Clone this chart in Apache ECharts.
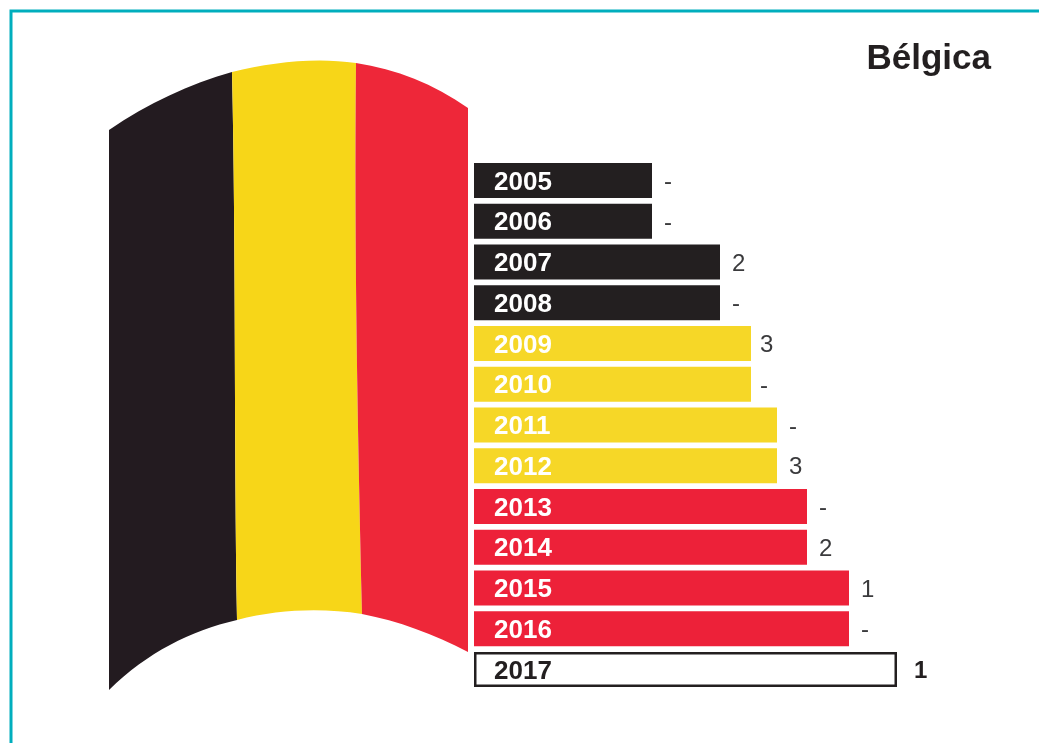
<!DOCTYPE html>
<html>
<head>
<meta charset="utf-8">
<title>Bélgica</title>
<script src="https://cdn.jsdelivr.net/npm/echarts@6/dist/echarts.min.js"></script>
<style>
html, body { margin: 0; padding: 0; background: #fff; }
#main { width: 1039px; height: 743px; }
</style>
</head>
<body>
<div id="main"></div>
<script>
var years = ['2005', '2006', '2007', '2008', '2009', '2010', '2011', '2012', '2013', '2014', '2015', '2016', '2017'];
// largo de cada barra
var barLengths = [178, 178, 246, 246, 277, 277, 303, 303, 333, 333, 375, 375, 423];
var counts = ['-', '-', '2', '-', '3', '-', '-', '3', '-', '2', '1', '-', '1'];

var BLACK = '#231f20', YELLOW = '#f6d727', RED = '#ed2139';
var FONT = '"Liberation Sans", Arial, sans-serif';

function barColor(i) {
    if (i < 4) return BLACK;
    if (i < 8) return YELLOW;
    if (i < 12) return RED;
    return '#ffffff';
}

var yearData = [];
var countData = [];
years.forEach(function (y, i) {
    var last = i === years.length - 1;
    yearData.push({
        value: barLengths[i],
        itemStyle: {
            color: barColor(i),
            borderColor: last ? BLACK : 'transparent',
            borderWidth: last ? 2.5 : 0
        },
        label: { color: last ? BLACK : '#ffffff' }
    });
    countData.push({
        value: barLengths[i],
        label: {
            fontWeight: last ? 'bold' : 'normal',
            color: last ? BLACK : '#3a3a3c',
            distance: last ? 17 : (i === 4 || i === 5 ? 9 : 12)
        }
    });
});

// bandera de fondo
function renderFlag() {
    return {
        type: 'group',
        children: [
            {
                type: 'path',
                shape: { pathData: 'M109 130 C148 103 190 84 232 72 C236 250 234 440 237 620 C190 631 148 652 109 690 Z' },
                style: { fill: '#231b20' }
            },
            {
                type: 'path',
                shape: { pathData: 'M232 72 C272 62 316 57 356 63 C354 250 358 440 362 614 C322 608 280 609 237 620 C234 440 236 250 232 72 Z' },
                style: { fill: '#f7d618' }
            },
            {
                type: 'path',
                shape: { pathData: 'M356 63 C396 69 434 84 468 108 L468 652 C434 634 398 621 362 614 C358 440 354 250 356 63 Z' },
                style: { fill: '#ee2739' }
            }
        ]
    };
}

var myChart = echarts.init(document.getElementById('main'));

var option = {
    animation: false,
    backgroundColor: '#ffffff',
    grid: { left: 474, top: 160, width: 565, height: 530 },
    xAxis: { type: 'value', min: 0, max: 565, show: false },
    yAxis: { type: 'category', data: years, inverse: true, show: false },
    graphic: [
        // marco
        {
            type: 'polyline', silent: true,
            shape: { points: [[11, 743], [11, 11], [1039, 11]] },
            style: { stroke: '#00aebd', lineWidth: 3, fill: null }
        },
        {
            type: 'text', silent: true, right: 48, top: 42,
            style: { text: 'Bélgica', font: 'bold 35px ' + FONT, fill: BLACK }
        }
    ],
    series: [
        {
            name: 'bandera',
            type: 'custom',
            coordinateSystem: 'none',
            silent: true,
            renderItem: renderFlag,
            data: [0]
        },
        {
            name: 'años',
            type: 'bar',
            barWidth: 35,
            barGap: '-100%',
            label: {
                show: true,
                position: 'insideLeft',
                distance: 20,
                offset: [0, 2],
                fontFamily: FONT,
                fontWeight: 'bold',
                fontSize: 26,
                formatter: function (p) { return years[p.dataIndex]; }
            },
            data: yearData
        },
        {
            name: 'títulos',
            type: 'bar',
            barWidth: 35,
            barGap: '-100%',
            itemStyle: { color: 'transparent' },
            label: {
                show: true,
                position: 'right',
                offset: [0, 2],
                fontFamily: FONT,
                fontSize: 24,
                formatter: function (p) { return counts[p.dataIndex]; }
            },
            data: countData
        }
    ]
};

myChart.setOption(option, true);
</script>
</body>
</html>
